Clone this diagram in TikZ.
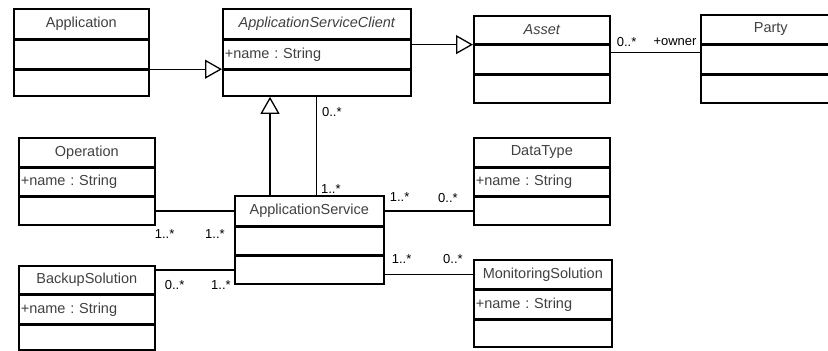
\documentclass[tikz,border=0pt]{standalone}
\usepackage{fontspec}
\newfontfamily\umlfont{Liberation Sans}
\usetikzlibrary{arrows.meta,positioning}

\tikzset{
  classtitle/.style={draw, line width=1.6pt, minimum width=#1, minimum height=29pt,
    inner sep=0pt, anchor=north west, text=black!75,
    font=\umlfont\fontsize{14.5}{16}\selectfont},
  classattr/.style={draw, line width=1.6pt, text width=#1, inner xsep=2pt, inner ysep=0pt,
    minimum height=28pt, align=left, text=black!75,
    font=\umlfont\fontsize{14.5}{16}\selectfont},
  classops/.style={draw, line width=1.6pt, minimum width=#1, minimum height=28pt, inner sep=0pt},
  assoc/.style={line width=1.3pt},
  generalize/.style={line width=1.3pt, -{Triangle[open, length=17pt, width=19pt, fill=white]}},
  mult/.style={inner sep=0pt, font=\umlfont\fontsize{13}{15}\selectfont}
}

\begin{document}
\frenchspacing
\begin{tikzpicture}[x=1pt,y=-1pt,node distance=0pt]
\useasboundingbox (0,0) rectangle (828,351);
\clip (0,0) rectangle (828,351);

% classes
\node[classtitle=135pt, minimum height=30pt] (app) at (13,8) {Application};
\node[classattr=131pt, below=of app] (app-a) {};
\node[classops=135pt, minimum height=26pt, below=of app-a] (app-o) {};

\node[classtitle=188pt, minimum height=30pt] (asc) at (222,8) {\itshape ApplicationServiceClient};
\node[classattr=184pt, below=of asc] (asc-a) {+name : String};
\node[classops=188pt, minimum height=26pt, below=of asc-a] (asc-o) {};

\node[classtitle=136pt, minimum height=28pt] (asset) at (473,15) {\itshape Asset};
\node[classattr=132pt, below=of asset] (asset-a) {};
\node[classops=136pt, below=of asset-a] (asset-o) {};

\node[classtitle=140pt] (party) at (700,14) {Party};
\node[classattr=136pt, below=of party] (party-a) {};
\node[classops=140pt, below=of party-a] (party-o) {};

\node[classtitle=136pt] (op) at (18,137) {Operation};
\node[classattr=132pt, minimum height=27pt, below=of op] (op-a) {+name : String};
\node[classops=136pt, below=of op-a] (op-o) {};

\node[classtitle=149pt, minimum height=30pt] (as) at (234,195) {ApplicationService};
\node[classattr=145pt, minimum height=27pt, below=of as] (as-a) {};
\node[classops=149pt, below=of as-a] (as-o) {};

\node[classtitle=136pt, minimum height=28pt] (bk) at (18,265) {BackupSolution};
\node[classattr=132pt, below=of bk] (bk-a) {+name : String};
\node[classops=136pt, minimum height=25pt, below=of bk-a] (bk-o) {};

\node[classtitle=136pt] (dt) at (473,137) {DataType};
\node[classattr=132pt, minimum height=27pt, below=of dt] (dt-a) {+name : String};
\node[classops=136pt, below=of dt-a] (dt-o) {};

\node[classtitle=138pt] (ms) at (473,259) {MonitoringSolution};
\node[classattr=134pt, below=of ms] (ms-a) {+name : String};
\node[classops=138pt, minimum height=27pt, below=of ms-a] (ms-o) {};

% helper points
\coordinate (gen) at ([xshift=36pt]as.north west);
\coordinate (own) at ([yshift=-8pt]asset-a.north east);
\coordinate (bkc) at ([yshift=-5pt]bk.north east);

% generalizations
\draw[generalize] (app-a.south east) -- (asc-a.south west);
\draw[generalize] (asset.south west -| asc.east) -- (asset.south west);
\draw[generalize] (gen) -- (gen |- asc-o.south);

% associations
\draw[assoc] (own) -- (own -| party-a.west)
  node[at start, mult, shift={(16,-11)}] {0..*}
  node[at end, mult, shift={(-25,-11)}] {+owner};
\draw[assoc] (asc-o.south) -- (asc-o.south |- as.north)
  node[at start, mult, shift={(15,15)}] {0..*}
  node[at end, mult, shift={(14,-6)}] {1..*};
\draw[assoc] (op-o.east) -- (op-o.east -| as.west)
  node[at start, mult, shift={(9,23)}] {1..*}
  node[at end, mult, shift={(-19,23)}] {1..*};
\draw[assoc] (bkc) -- (bkc -| as.west)
  node[at start, mult, shift={(19,15)}] {0..*}
  node[at end, mult, shift={(-13,15)}] {1..*};
\draw[assoc] (dt-o.west -| as.east) -- (dt-o.west)
  node[at start, mult, shift={(15,-14)}] {1..*}
  node[at end, mult, shift={(-25,-13)}] {0..*};
\draw[assoc] (ms.west -| as.east) -- (ms.west)
  node[at start, mult, shift={(17,-15)}] {1..*}
  node[at end, mult, shift={(-20,-15)}] {0..*};
\end{tikzpicture}
\end{document}
